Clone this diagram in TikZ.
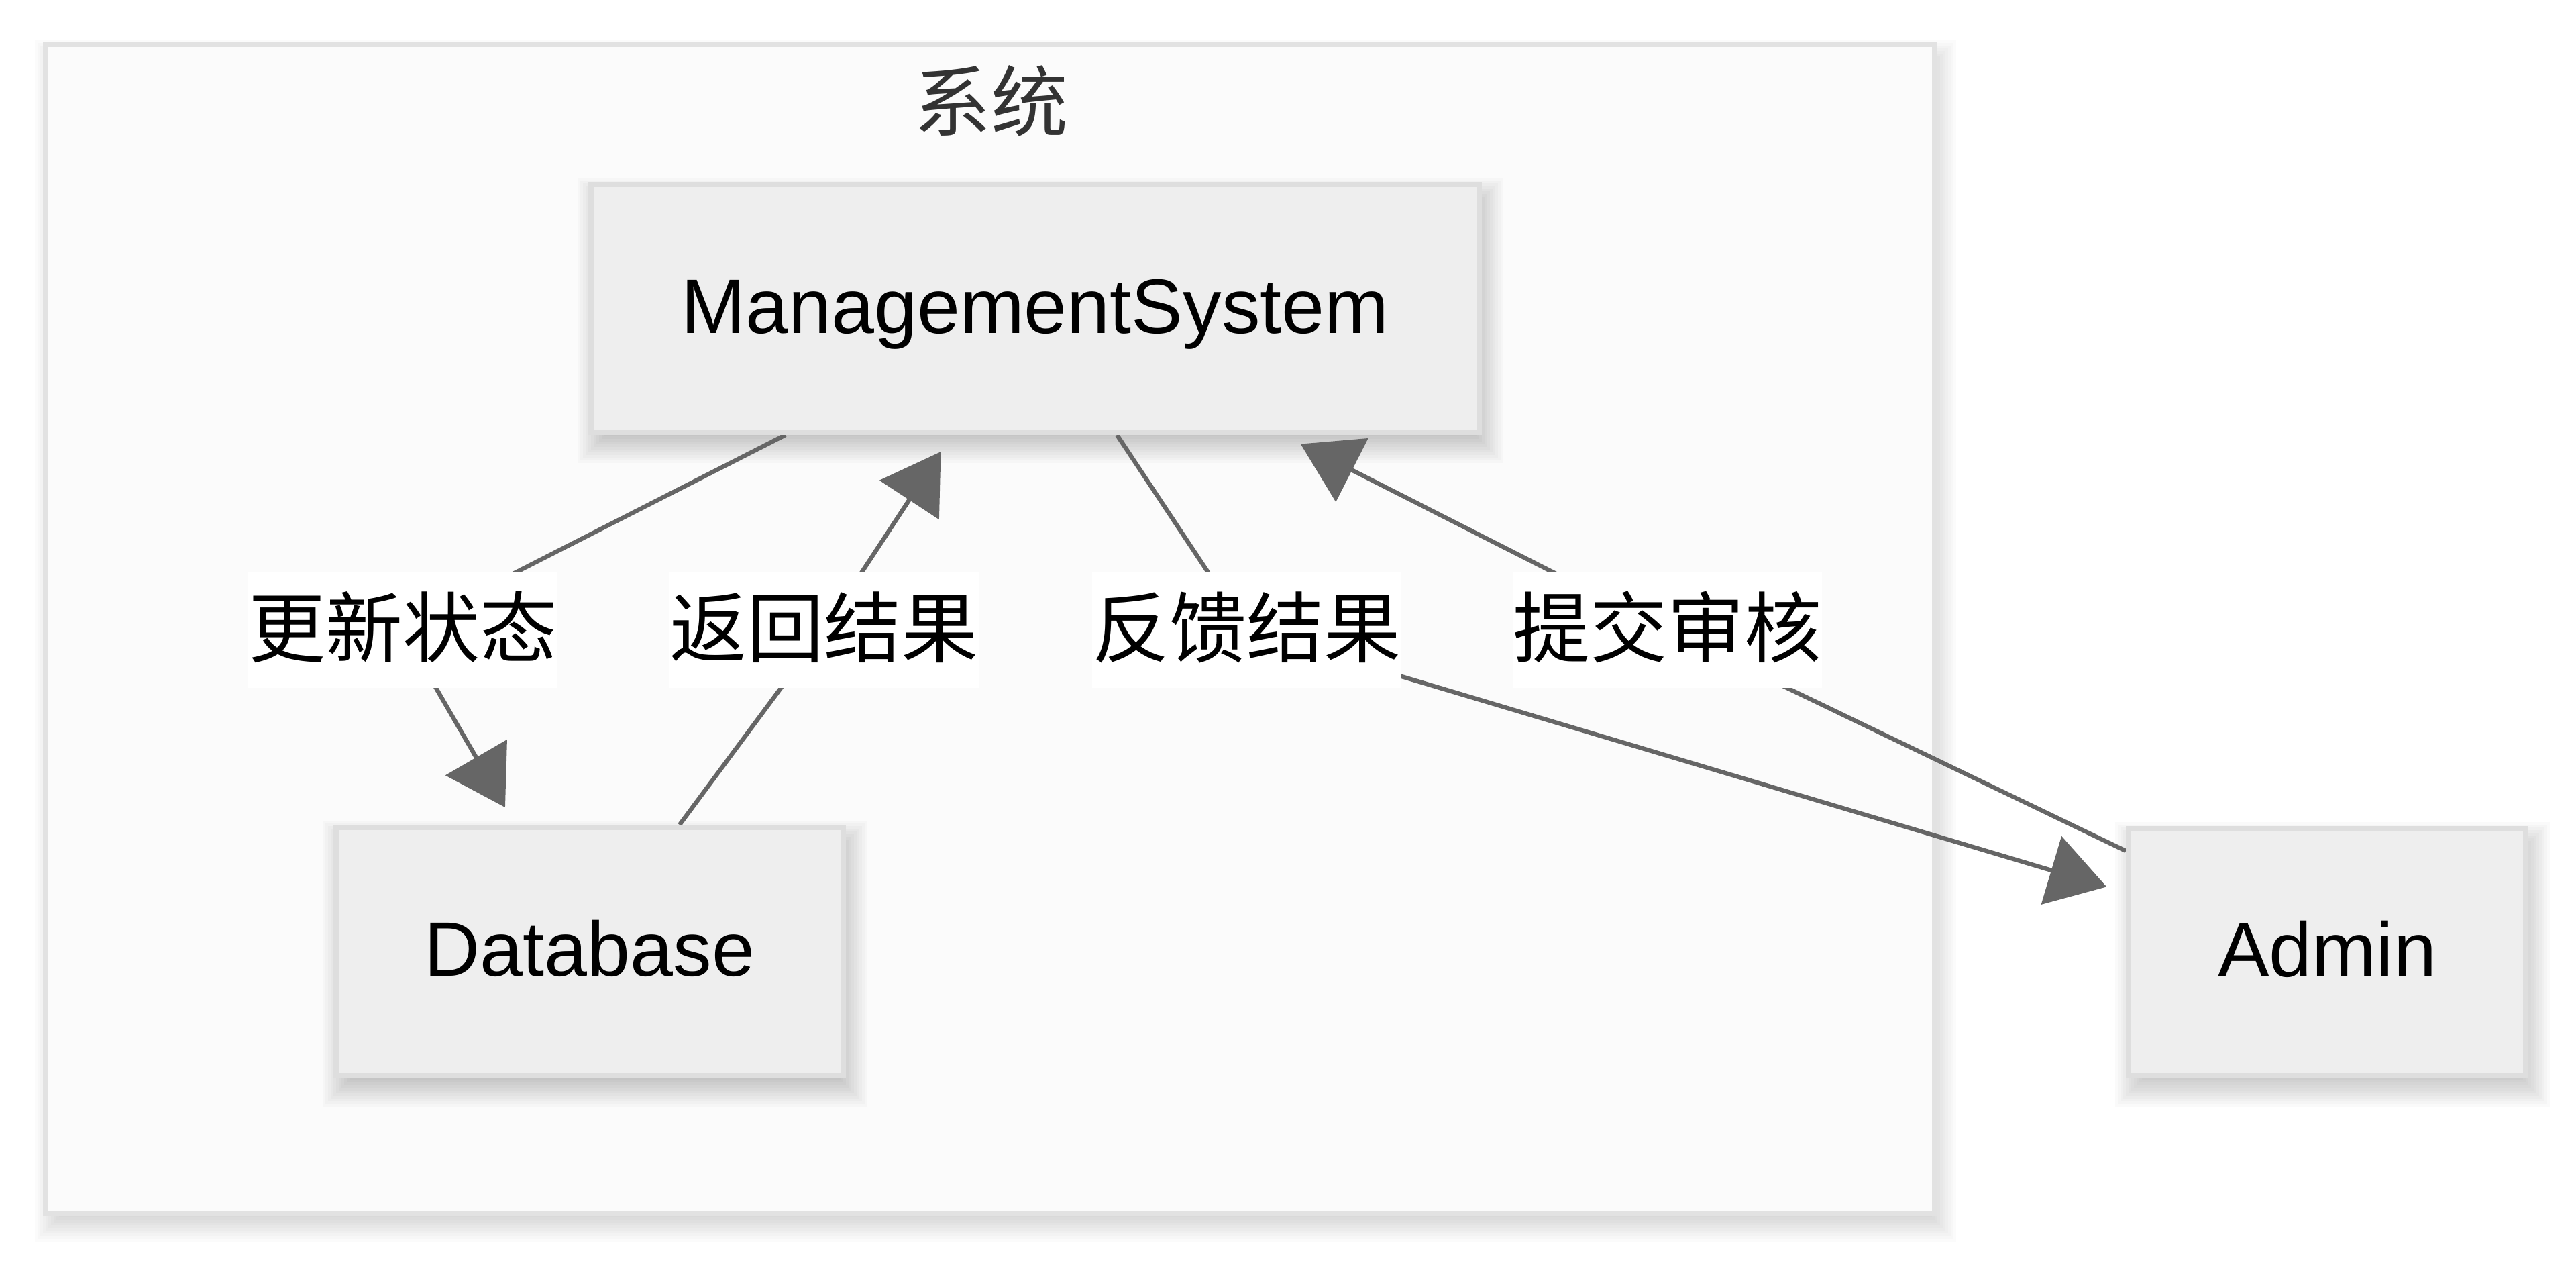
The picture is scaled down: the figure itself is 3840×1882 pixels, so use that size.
\documentclass[tikz,border=0pt]{standalone}
\usepackage{fontspec}
\setmainfont{Liberation Sans}
\newfontfamily\cjk{Noto Sans CJK SC}
\usetikzlibrary{arrows.meta,calc}
\pgfdeclarelayer{shadowlayer}
\pgfdeclarelayer{edgelayer}
\pgfsetlayers{shadowlayer,edgelayer,main}
\definecolor{edgegray}{HTML}{666666}
\definecolor{boxfill}{HTML}{EEEEEE}
\definecolor{boxline}{HTML}{DEDEDE}
\definecolor{framefill}{HTML}{FBFBFB}
\definecolor{frameline}{HTML}{E2E2E2}
\definecolor{titlecol}{HTML}{333333}
\newcommand\bigfont{\fontsize{28.75pt}{34pt}\selectfont}
\newcommand\softshadow[1]{%
  \foreach \r in {-20,-16,...,24}{%
    \fill[black,opacity=0.02] ($(#1.south west)+(8-\r,18+\r)$) rectangle ($(#1.north east)+(8+\r,18-\r)$);
  }}
\tikzset{
  box/.style={draw=boxline, fill=boxfill, line width=2pt, inner sep=0pt,
    font=\bigfont, text=black, text height=20.7pt, text depth=2.3pt},
  framebox/.style={draw=frameline, fill=framefill, line width=2pt, inner sep=0pt},
  elabel/.style={fill=white, inner sep=0pt, minimum width=115.25pt, minimum height=43pt,
    font=\cjk\bigfont, text=black, text height=25.3pt, text depth=5.75pt},
  edge/.style={draw=edgegray, line width=1.6pt, shorten >=7.5pt,
    -{Triangle[length=21.5pt,width=26.25pt]}, fill=none},
}
\begin{document}
\begin{tikzpicture}[x=0.25pt,y=-0.25pt]
\useasboundingbox (0,0) rectangle (3840,1882);

% nodes
\node[box, minimum width=331pt, minimum height=92.25pt] (MS) at (1543,459.5) {ManagementSystem};
\node[box, minimum width=189pt, minimum height=92.5pt] (DB) at (879,1418) {Database};
\node[box, minimum width=148pt, minimum height=92pt] (AD) at (3469,1419) {Admin};

\node[elabel] (l1) at (600,939) {更新状态};
\node[elabel] (l2) at (1228,939) {返回结果};
\node[elabel] (l3) at (1858,939) {反馈结果};
\node[elabel] (l4) at (2485,939) {提交审核};

% frame, title and shadows
\begin{pgfonlayer}{shadowlayer}
  \foreach \r in {-20,-16,...,24}{%
    \fill[black,opacity=0.016] (68+8-\r,66+18-\r) rectangle (2884+8+\r,1808+18+\r);
  }
  \node[framebox, minimum width=704pt, minimum height=435.5pt] (sys) at (1476,937) {};
  \softshadow{MS}
  \softshadow{DB}
  \softshadow{AD}
\end{pgfonlayer}
\node[font=\cjk\bigfont, text=titlecol, inner sep=0pt] (title) at (1477,150) {系统};

% edges
\begin{pgfonlayer}{edgelayer}
  \draw[edge] ($(MS.south)+(-372,0)$) -- (l1.center) -- ($(DB.north)+(-111,0)$);
  \draw[edge] ($(DB.north)+(134,0)$) -- (l2.center) -- ($(MS.south)+(-124,0)$);
  \draw[edge] ($(MS.south)+(122,0)$) -- (l3.center) -- ($(AD.west)+(0,-89)$);
  \draw[edge] ($(AD.west)+(0,-151)$) -- (l4.center) -- ($(MS.south)+(369,0)$);
\end{pgfonlayer}
\end{tikzpicture}
\end{document}
